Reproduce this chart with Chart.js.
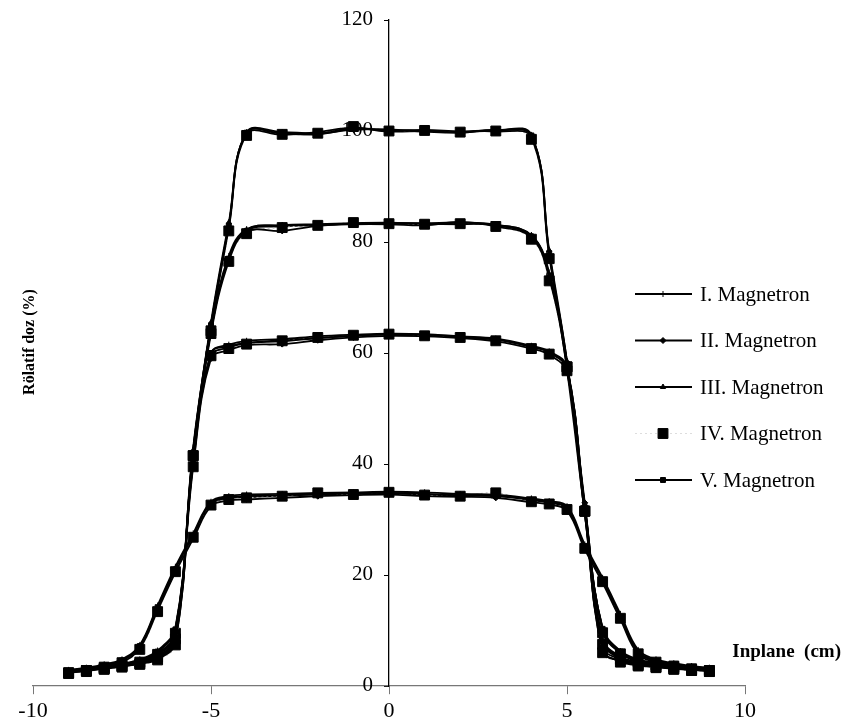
<!DOCTYPE html>
<html>
<head>
<meta charset="utf-8">
<script src="https://cdn.jsdelivr.net/npm/chart.js@4.4.1/dist/chart.umd.min.js"></script>
<style>
  html, body { margin: 0; padding: 0; background: #fff; }
  #wrap { position: relative; width: 844px; height: 725px; }
</style>
</head>
<body>
<div id="wrap"><canvas id="profile"></canvas></div>
<script>
// inplane positions (cm), shared by every profile
const inplane = [-9, -8.5, -8, -7.5, -7, -6.5, -6, -5.5, -5, -4.5, -4, -3, -2, -1, 0, 1, 2, 3, 4, 4.5, 5, 5.5, 6, 6.5, 7, 7.5, 8, 8.5, 9];

const seriesNames = ['I. Magnetron', 'II. Magnetron', 'III. Magnetron', 'IV. Magnetron', 'V. Magnetron'];

// relative dose (%) per magnetron, four depth profiles each
const magI = [
    [2.8, 3, 3.4, 3.8, 4.2, 5.2, 8.5, 43, 65, 83, 99.8, 99.8, 99.6, 100.2, 100.3, 99.9, 99.7, 100.2, 99.3, 78, 57, 31, 7, 4.8, 4, 3.6, 3.4, 3.2, 3],
    [2.8, 3.1, 3.5, 3.9, 4.5, 5.8, 9.5, 42.5, 64.5, 77.5, 82.3, 83, 83.2, 83.4, 83.5, 83.3, 83.2, 83.1, 81.2, 74.5, 58.5, 31, 8.5, 5.3, 4.3, 3.8, 3.5, 3.2, 3],
    [2.8, 3.2, 3.6, 4, 4.8, 6.4, 10.5, 40.5, 60, 61.5, 62.2, 62.5, 63, 63.3, 63.5, 63.4, 63, 62.6, 61.3, 60.3, 57.5, 31, 10.5, 6.3, 4.8, 4.2, 3.8, 3.4, 3.2],
    [2.9, 3.3, 3.9, 4.8, 7.4, 14.5, 21.5, 27.5, 33.2, 34.2, 34.5, 34.6, 34.8, 34.9, 35, 34.9, 34.6, 34.5, 33.8, 33.3, 32.4, 25.5, 19.5, 13, 6.5, 4.8, 4.1, 3.6, 3.3]
];
const magII = [
    [2.4, 2.7, 3.1, 3.5, 4, 4.8, 7.8, 42, 64.5, 82.5, 99.4, 99.3, 99.8, 100.6, 100, 100.2, 99.9, 99.9, 98.8, 77.5, 58, 33, 6.5, 4.4, 3.7, 3.4, 3.1, 2.9, 2.7],
    [2.4, 2.8, 3.2, 3.6, 4.1, 5.3, 8.8, 41.5, 63.5, 76.5, 81.8, 82, 82.9, 83.2, 83.2, 83, 83.6, 82.8, 80.8, 73.5, 57.5, 32.5, 7.8, 4.9, 3.9, 3.5, 3.2, 2.9, 2.7],
    [2.4, 2.9, 3.3, 3.7, 4.4, 5.8, 9.6, 39.5, 59, 60.5, 61.4, 61.6, 62.3, 62.8, 63.1, 63, 62.7, 62.1, 60.8, 59.7, 56.5, 32.5, 9.8, 5.9, 4.4, 3.9, 3.4, 3.1, 2.9],
    [2.5, 2.9, 3.5, 4.3, 6.8, 13.6, 20.5, 26.5, 32.4, 33.4, 33.6, 33.9, 34.2, 34.4, 34.5, 34.2, 34.1, 33.9, 33.1, 32.7, 31.6, 24.6, 18.6, 12, 5.7, 4.3, 3.6, 3.1, 2.8]
];
const magIII = [
    [2.6, 2.9, 3.3, 3.7, 4.1, 5, 8.2, 42.5, 65.5, 83.5, 99.6, 99.6, 99.4, 100.4, 100.1, 100.1, 99.7, 100.1, 99.1, 78.5, 58.5, 32, 6.2, 4.6, 3.9, 3.5, 3.2, 3, 2.9],
    [2.6, 3, 3.4, 3.8, 4.3, 5.6, 9.2, 42, 64, 77, 82.2, 83, 83.1, 83.3, 83.4, 83.4, 83.5, 83.1, 81.2, 74, 58, 32, 8.2, 5.1, 4.1, 3.7, 3.4, 3.1, 2.9],
    [2.6, 3.1, 3.5, 3.9, 4.6, 6.1, 10.2, 40, 59.5, 61, 61.8, 62.1, 62.7, 63.1, 63.4, 63.3, 62.9, 62.4, 61.1, 60.1, 57, 32, 10.2, 6.1, 4.6, 4.1, 3.6, 3.3, 3.1],
    [2.7, 3.1, 3.7, 4.6, 7.1, 14.2, 21.2, 27.2, 33, 34, 34.2, 34.4, 34.6, 34.7, 34.8, 34.6, 34.4, 34.3, 33.6, 33.1, 32.1, 25.2, 19.2, 12.6, 6.2, 4.6, 3.9, 3.4, 3.1]
];
const magIV = [
    [2.3, 2.6, 3, 3.4, 3.9, 4.7, 7.4, 41.5, 64, 82, 99.2, 99.4, 99.6, 100.8, 100, 100.1, 99.8, 100, 98.5, 77, 57.5, 31.5, 6, 4.3, 3.6, 3.3, 3, 2.8, 2.6],
    [2.3, 2.7, 3.1, 3.5, 4, 5.2, 8.5, 41.5, 63.5, 76.5, 81.5, 82.6, 83, 83.5, 83.3, 83.2, 83.3, 82.8, 80.5, 73, 57.5, 31.5, 7.5, 4.8, 3.8, 3.4, 3.1, 2.8, 2.6],
    [2.3, 2.8, 3.2, 3.6, 4.3, 5.7, 9.5, 39.5, 59.5, 60.8, 61.6, 62.2, 62.8, 63.2, 63.4, 63.1, 62.8, 62.2, 60.8, 59.8, 56.8, 31.5, 9.6, 5.8, 4.3, 3.8, 3.4, 3, 2.8],
    [2.4, 2.8, 3.4, 4.2, 6.6, 13.4, 20.6, 26.8, 32.6, 33.6, 33.9, 34.2, 34.8, 34.5, 34.9, 34.4, 34.2, 34.8, 33.2, 32.8, 31.8, 24.8, 18.8, 12.2, 5.8, 4.3, 3.6, 3.1, 2.8]
];
const magV = [
    [2.7, 3, 3.3, 3.7, 4.1, 5.1, 8, 42, 65, 83, 99.7, 99.5, 99.5, 100.5, 99.9, 100, 99.9, 100.1, 99.2, 78, 58, 32, 6.3, 4.5, 3.8, 3.5, 3.3, 3.1, 2.9],
    [2.7, 3, 3.4, 3.8, 4.3, 5.6, 9, 42, 64, 77, 82, 82.8, 83, 83.3, 83.3, 83.2, 83.3, 83, 81, 74, 58, 32, 8, 5, 4, 3.6, 3.3, 3, 2.8],
    [2.7, 3.1, 3.5, 3.9, 4.6, 6.2, 10.2, 40.5, 60, 61.2, 61.8, 62.3, 62.7, 63.1, 63.3, 63.2, 62.9, 62.4, 61.1, 60.1, 57.2, 32, 10.3, 6.2, 4.6, 4.1, 3.6, 3.3, 3.1],
    [2.7, 3.1, 3.7, 4.6, 7.2, 14.2, 21, 27, 32.8, 33.8, 34, 34.3, 34.5, 34.6, 34.7, 34.5, 34.3, 34.2, 33.5, 33, 32, 25, 19, 12.4, 6, 4.5, 3.8, 3.3, 3]
];

const xTicks = [-10, -5, 0, 5, 10];
const yTicks = [0, 20, 40, 60, 80, 100, 120];

const serif = '"Liberation Serif", "Times New Roman", serif';

// marker look per magnetron
const styles = [
    { pointStyle: 'line', rotation: 90, pointRadius: 3, borderColor: '#000', borderWidth: 1.8, borderDash: [] },
    { pointStyle: 'rectRot', rotation: 0, pointRadius: 3, borderColor: '#000', borderWidth: 1.8, borderDash: [] },
    { pointStyle: 'triangle', rotation: 0, pointRadius: 3, borderColor: '#000', borderWidth: 1.8, borderDash: [] },
    { pointStyle: 'rect', rotation: 0, pointRadius: 7, borderColor: '#bbb', borderWidth: 1, borderDash: [2, 3] },
    { pointStyle: 'rect', rotation: 0, pointRadius: 3.5, borderColor: '#000', borderWidth: 1.8, borderDash: [] }
];

const allMags = [magI, magII, magIII, magIV, magV];
const datasets = [];
allMags.forEach((profiles, s) => {
    profiles.forEach(values => {
        const st = styles[s];
        datasets.push({
            label: seriesNames[s],
            data: values.map((v, i) => ({ x: inplane[i], y: v })),
            borderColor: st.borderColor,
            borderWidth: st.borderWidth,
            borderDash: st.borderDash,
            pointStyle: st.pointStyle,
            pointRotation: st.rotation,
            pointRadius: st.pointRadius,
            pointBackgroundColor: '#000',
            pointBorderColor: '#000',
            pointBorderWidth: 1,
            tension: 0.4,
            fill: false
        });
    });
});

// y tick labels, legend and axis titles drawn straight on the canvas
const decorations = {
    id: 'decorations',
    afterDraw(chart) {
        const ctx = chart.ctx;
        const xs = chart.scales.x;
        const ys = chart.scales.y;
        ctx.save();
        ctx.fillStyle = '#000';

        // y tick labels sit left of the centred axis
        ctx.font = '21px ' + serif;
        ctx.textAlign = 'right';
        ctx.textBaseline = 'middle';
        const axisX = xs.getPixelForValue(0);
        yTicks.forEach(v => {
            ctx.fillText(String(v), axisX - 16, ys.getPixelForValue(v) - 1);
        });

        // y title
        ctx.font = 'bold 16px ' + serif;
        ctx.translate(30, 342);
        ctx.rotate(-Math.PI / 2);
        ctx.textAlign = 'center';
        ctx.fillText('Rölatif doz (%)', 0, 0);
        ctx.setTransform(1, 0, 0, 1, 0, 0);

        // x title
        ctx.font = 'bold 19px ' + serif;
        ctx.textAlign = 'right';
        ctx.textBaseline = 'alphabetic';
        ctx.fillText('Inplane  (cm)', 841, 657);

        // legend
        ctx.font = '21px ' + serif;
        seriesNames.forEach((name, i) => {
            const y = 294 + i * 46.5;
            const st = styles[i];
            ctx.save();
            ctx.strokeStyle = i === 3 ? '#ddd' : '#000';
            ctx.lineWidth = st.borderWidth;
            ctx.setLineDash(st.borderDash);
            ctx.beginPath();
            ctx.moveTo(635, y);
            ctx.lineTo(692, y);
            ctx.stroke();
            ctx.setLineDash([]);
            ctx.fillStyle = '#000';
            ctx.strokeStyle = '#000';
            ctx.lineWidth = 1;
            Chart.helpers.drawPoint(ctx, {
                pointStyle: st.pointStyle,
                radius: st.pointRadius,
                rotation: st.rotation,
                borderWidth: 1
            }, 663, y);
            ctx.restore();
            ctx.fillStyle = '#000';
            ctx.textAlign = 'left';
            ctx.textBaseline = 'middle';
            ctx.fillText(name, 700, y + 1);
        });
        ctx.restore();
    }
};

new Chart(document.getElementById('profile'), {
    type: 'line',
    data: { datasets },
    options: {
        responsive: true,
        maintainAspectRatio: false,
        animation: false,
        layout: { padding: { left: 33, right: 99, top: 20, bottom: 39 } },
        plugins: {
            legend: { display: false },
            tooltip: { enabled: false }
        },
        scales: {
            x: {
                type: 'linear',
                min: -10,
                max: 10,
                position: { y: 0 },
                afterFit: s => { s.height = 0; },
                afterBuildTicks: s => { s.ticks = xTicks.map(v => ({ value: v })); },
                ticks: { color: '#000', font: { family: serif, size: 22 }, padding: 4, maxRotation: 0 },
                grid: { drawOnChartArea: false, drawTicks: true, tickLength: 8, color: '#777' },
                border: { color: '#777', width: 1.2 }
            },
            y: {
                type: 'linear',
                min: 0,
                max: 120,
                position: { x: 0 },
                afterFit: s => { s.width = 0; },
                afterBuildTicks: s => { s.ticks = yTicks.map(v => ({ value: v })); },
                ticks: { display: false },
                grid: { drawOnChartArea: false, drawTicks: true, tickLength: 4, color: '#000' },
                border: { color: '#000', width: 1.3 }
            }
        }
    },
    plugins: [decorations]
});
</script>
</body>
</html>
